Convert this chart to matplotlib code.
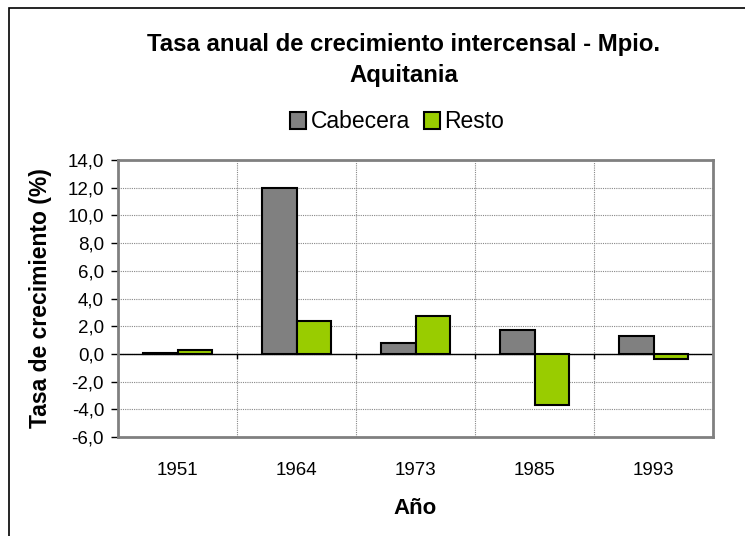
import matplotlib
matplotlib.use('Agg')
import matplotlib.pyplot as plt
import numpy as np
from matplotlib.patches import Rectangle

plt.rcParams['font.family'] = ['Liberation Sans', 'DejaVu Sans']

# Data
years = ['1951', '1964', '1973', '1985', '1993']
cabecera = [0.05, 12.0, 0.8, 1.7, 1.3]
resto = [0.3, 2.4, 2.75, -3.7, -0.35]

fig = plt.figure(figsize=(7.45, 5.36), dpi=100)
ax = fig.add_axes([118 / 745, 1 - 437 / 536, 595 / 745, 277 / 536])

# outer chart frame (left and top edges visible)
fig.patches.append(Rectangle((9 / 745, -0.1), 1.2, 1 - 8 / 536 + 0.1,
                             transform=fig.transFigure, fill=False,
                             edgecolor='black', linewidth=1.2))

x = np.arange(len(years))
w = 0.287
ax.bar(x - w / 2, cabecera, w, color='#808080', edgecolor='black',
       linewidth=1.5, label='Cabecera', zorder=3)
ax.bar(x + w / 2, resto, w, color='#99cc00', edgecolor='black',
       linewidth=1.5, label='Resto', zorder=3)

ax.set_xlim(-0.5, len(years) - 0.5)
ax.set_ylim(-6, 14)
yt = np.arange(-6, 15, 2)
ax.set_yticks(yt)
ax.set_yticklabels([f'{v:.1f}'.replace('.', ',') for v in yt])
ax.set_xticks(x)
ax.set_xticklabels(years)
ax.tick_params(axis='x', length=0, pad=18, labelsize=13.5)
ax.tick_params(axis='y', length=5, width=1, pad=5, labelsize=13.5, color='black')

# gridlines
for yv in yt:
    ax.axhline(yv, color='#888888', linestyle=(0, (1, 1)), linewidth=0.8, zorder=1)
for xv in np.arange(0.5, len(years) - 0.5, 1):
    ax.axvline(xv, color='#888888', linestyle=(0, (1, 1)), linewidth=0.8, zorder=1)
ax.axhline(0, color='black', linewidth=1, zorder=2)
for xv in np.arange(0.5, len(years), 1):
    ax.plot([xv, xv], [0, -0.3], color='black', linewidth=1, zorder=2)

for s in ax.spines.values():
    s.set_color('#808080')
    s.set_linewidth(2)

ax.set_ylabel('Tasa de crecimiento (%)', fontsize=16.5, fontweight='bold', labelpad=11)
ax.set_xlabel('Año', fontsize=16, fontweight='bold', labelpad=14)

fig.text(404 / 745, 1 - 60 / 536, 'Tasa anual de crecimiento intercensal - Mpio.\nAquitania',
         ha='center', va='center', fontsize=17.2, fontweight='bold', linespacing=1.45)

fig.legend(loc='center', bbox_to_anchor=(397 / 745, 1 - 122 / 536), ncol=2,
           frameon=False, fontsize=16.5, handlelength=0.7, handleheight=0.7,
           handletextpad=0.2, columnspacing=0.6)

fig.savefig('out.png', dpi=100)
